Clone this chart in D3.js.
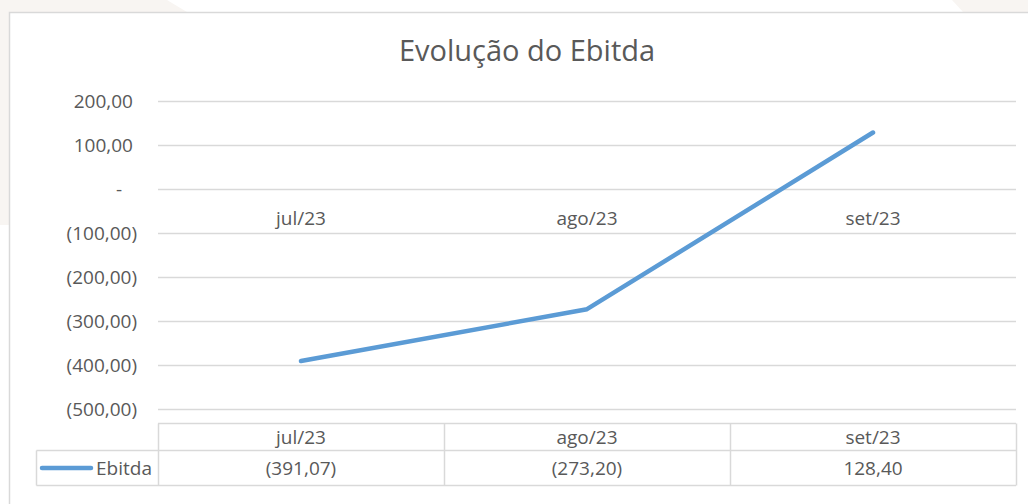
<!DOCTYPE html>
<html>
<head>
<meta charset="utf-8">
<script src="https://cdn.jsdelivr.net/npm/d3@7"></script>
<style>
  html, body { margin: 0; padding: 0; background: #fff; }
  svg { display: block; font-family: "Open Sans", sans-serif; }
</style>
</head>
<body>
<svg id="chart" width="1028" height="504"></svg>
<script>
const categories = ["jul/23", "ago/23", "set/23"];
const ebitda = [-391.07, -273.20, 128.40];
const seriesName = "Ebitda";
const yTicks = [200, 100, 0, -100, -200, -300, -400, -500];
const title = "Evolução do Ebitda";

const svg = d3.select("#chart");
const width = +svg.attr("width");

const textColor = "#595959";
const gridColor = "#d9d9d9";
const lineColor = "#5b9bd5";

const margin = { left: 158, right: 12, top: 101, bottom: 95 };
const plotRight = width - margin.right;
const plotBottom = 504 - margin.bottom;

// beige background shapes behind the chart frame
svg.append("polygon")
  .attr("points", "0,0 167,0 187,12 9,12 9,225 0,225")
  .attr("fill", "#f8f5f2");
svg.append("polygon")
  .attr("points", "952,0 1028,0 1028,12 963,12")
  .attr("fill", "#f8f5f2");

// chart frame
svg.append("rect")
  .attr("x", 9.5)
  .attr("y", 12.5)
  .attr("width", 1040)
  .attr("height", 500)
  .attr("fill", "#fff")
  .attr("stroke", gridColor)
  .attr("stroke-width", 1.5);

const locale = d3.formatLocale({ decimal: ",", thousands: ".", grouping: [3], currency: ["R$", ""] });
const fmt = locale.format(",.2f");
const accounting = v => {
  if (v === 0) return "-";
  return v < 0 ? `(${fmt(-v)})` : fmt(v);
};

const x = d3.scaleBand()
  .domain(categories)
  .range([margin.left, plotRight])
  .padding(0);

const y = d3.scaleLinear()
  .domain([-500, 200])
  .range([plotBottom, margin.top]);

// gridlines
svg.append("g")
  .selectAll("line")
  .data(yTicks)
  .join("line")
  .attr("x1", margin.left)
  .attr("x2", plotRight)
  .attr("y1", d => Math.round(y(d)) + 0.5)
  .attr("y2", d => Math.round(y(d)) + 0.5)
  .attr("stroke", gridColor)
  .attr("stroke-width", 1.5);

// y axis labels (accounting format)
const yAxis = svg.append("g")
  .attr("transform", `translate(${margin.left},0)`)
  .call(d3.axisLeft(y).tickValues(yTicks).tickSize(0).tickFormat(accounting));
yAxis.select(".domain").remove();
yAxis.selectAll("text")
  .attr("x", d => (d === 0 ? -36 : d < 0 ? -21 : -25))
  .attr("fill", textColor)
  .attr("font-size", "19px")
  .attr("font-family", "Open Sans, sans-serif");

// category labels along the zero line
const xAxis = svg.append("g")
  .attr("transform", `translate(0,${y(0)})`)
  .call(d3.axisBottom(x).tickSize(0));
xAxis.select(".domain").remove();
xAxis.selectAll("text")
  .attr("y", 29)
  .attr("dy", "0.35em")
  .attr("fill", textColor)
  .attr("font-size", "19px")
  .attr("font-family", "Open Sans, sans-serif");

// series line
const line = d3.line()
  .x((d, i) => x(categories[i]) + x.bandwidth() / 2)
  .y(d => y(d));

svg.append("path")
  .datum(ebitda)
  .attr("d", line)
  .attr("fill", "none")
  .attr("stroke", lineColor)
  .attr("stroke-width", 4.5)
  .attr("stroke-linecap", "round")
  .attr("stroke-linejoin", "round");

// title
svg.append("text")
  .attr("x", 527)
  .attr("y", 51)
  .attr("dy", "0.35em")
  .attr("text-anchor", "middle")
  .attr("fill", textColor)
  .attr("font-size", "29px")
  .text(title);

// data table
const rowTop = 423.5, rowMid = 450.5, rowBottom = 485.5;
const legendLeft = 36.5;
const table = svg.append("g")
  .attr("stroke", gridColor)
  .attr("stroke-width", 1.5);

table.append("line").attr("x1", margin.left).attr("x2", plotRight).attr("y1", rowTop).attr("y2", rowTop);
table.append("line").attr("x1", legendLeft).attr("x2", plotRight).attr("y1", rowMid).attr("y2", rowMid);
table.append("line").attr("x1", legendLeft).attr("x2", plotRight).attr("y1", rowBottom).attr("y2", rowBottom);
table.append("line").attr("x1", legendLeft).attr("x2", legendLeft).attr("y1", rowMid).attr("y2", rowBottom);

const colEdges = categories.map(c => x(c)).concat([plotRight]);
table.selectAll("line.col")
  .data(colEdges)
  .join("line")
  .attr("class", "col")
  .attr("x1", d => Math.round(d) + 0.5)
  .attr("x2", d => Math.round(d) + 0.5)
  .attr("y1", rowTop)
  .attr("y2", rowBottom);

svg.append("g")
  .selectAll("text")
  .data(categories)
  .join("text")
  .attr("x", d => x(d) + x.bandwidth() / 2)
  .attr("y", (rowTop + rowMid) / 2)
  .attr("dy", "0.35em")
  .attr("text-anchor", "middle")
  .attr("fill", textColor)
  .attr("font-size", "19px")
  .text(d => d);

svg.append("g")
  .selectAll("text")
  .data(ebitda)
  .join("text")
  .attr("x", (d, i) => x(categories[i]) + x.bandwidth() / 2)
  .attr("y", (rowMid + rowBottom) / 2)
  .attr("dy", "0.35em")
  .attr("text-anchor", "middle")
  .attr("fill", textColor)
  .attr("font-size", "19px")
  .text(d => accounting(d));

// legend key inside the table
const keyY = (rowMid + rowBottom) / 2;
svg.append("line")
  .attr("x1", 42)
  .attr("x2", 91)
  .attr("y1", keyY)
  .attr("y2", keyY)
  .attr("stroke", lineColor)
  .attr("stroke-width", 4.5)
  .attr("stroke-linecap", "round");

svg.append("text")
  .attr("x", 96)
  .attr("y", keyY)
  .attr("dy", "0.35em")
  .attr("fill", textColor)
  .attr("font-size", "19px")
  .text(seriesName);
</script>
</body>
</html>
